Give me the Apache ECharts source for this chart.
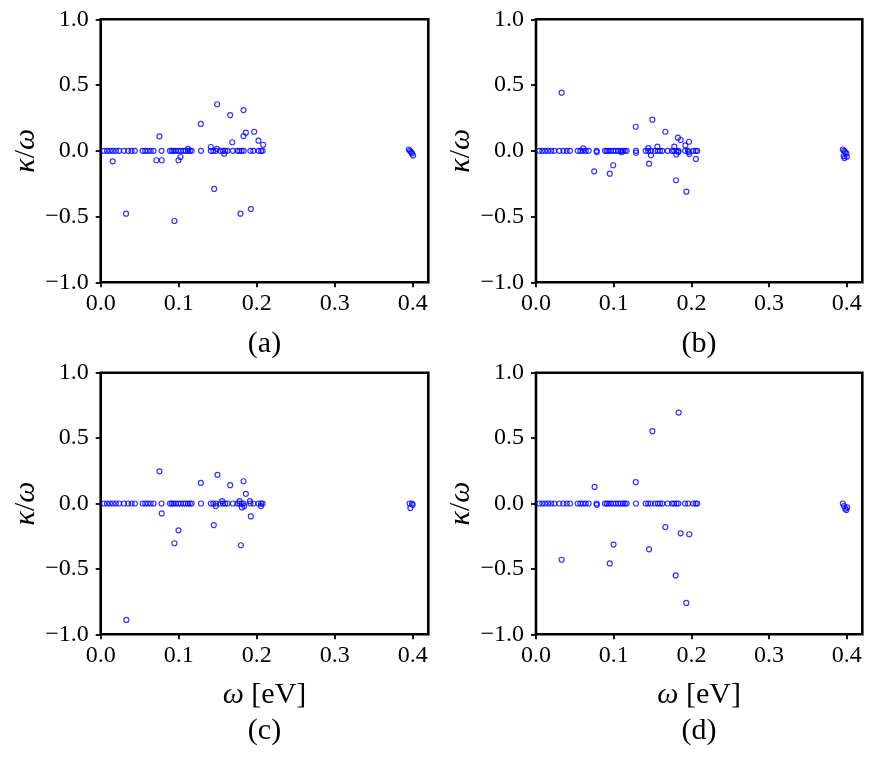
<!DOCTYPE html>
<html>
<head>
<meta charset="utf-8">
<script src="https://cdn.jsdelivr.net/npm/echarts@6/dist/echarts.min.js"></script>
<style>html,body{margin:0;padding:0;background:#fff}#c{width:872px;height:763px}</style>
</head>
<body>
<div id="c"></div>
<script>
// Shared frequencies of modes with kappa/omega = 0 (eV)
const omegaZero = [0.0042,0.0081,0.0118,0.0156,0.0195,0.0235,0.0299,0.0353,0.0396,0.0438,0.0537,0.0571,0.0605,0.0640,0.0678,0.0780,0.0888,0.0911,0.0933,0.0963,0.0995,0.1027,0.1059,0.1091,0.1119,0.1143,0.1166,0.1286,0.1412,0.1444,0.1478,0.1532,0.1568,0.1596,0.1626,0.1695,0.1752,0.1778,0.1808,0.1833,0.1919,0.1957,0.2024,0.2056,0.2076];
// Non-zero kappa/omega points, [omega, kappa/omega]
const panelA = [[0.0154,-0.08],[0.0325,-0.478],[0.0753,0.11],[0.0714,-0.072],[0.0783,-0.072],[0.0945,-0.534],[0.0997,-0.072],[0.1023,-0.047],[0.112,0.015],[0.1284,0.204],[0.1412,0.029],[0.1455,-0.29],[0.1493,0.354],[0.149,0.015],[0.1583,-0.022],[0.166,0.272],[0.1686,0.065],[0.1792,-0.478],[0.1831,0.31],[0.1831,0.112],[0.1861,0.138],[0.1925,-0.443],[0.1968,0.145],[0.2023,0.077],[0.2083,0.046],
  [0.395,0.01],[0.3965,0],[0.398,-0.01],[0.399,-0.02],[0.4005,-0.035]];
const panelB = [[0.033,0.442],[0.0749,-0.156],[0.095,-0.174],[0.0993,-0.11],[0.0783,-0.01],[0.0608,0.019],[0.11,-0.011],[0.1284,0.183],[0.1288,-0.015],[0.1455,-0.098],[0.148,-0.034],[0.1445,0.02],[0.1498,0.237],[0.1562,0.031],[0.1665,0.145],[0.178,0.031],[0.1802,-0.224],[0.1806,-0.028],[0.1832,-0.01],[0.1827,0.10],[0.1862,0.082],[0.1922,0.042],[0.1935,-0.311],[0.1969,0.069],[0.1965,-0.01],[0.1973,-0.025],[0.2058,-0.062],
  [0.395,0.01],[0.3965,0],[0.398,-0.01],[0.3995,-0.02],[0.396,-0.04],[0.4,-0.045],[0.397,-0.055]];
const panelC = [[0.0753,0.246],[0.0329,-0.89],[0.0783,-0.076],[0.0997,-0.205],[0.0945,-0.304],[0.1284,0.157],[0.1497,0.219],[0.145,-0.165],[0.1476,-0.02],[0.1557,0.018],[0.166,0.14],[0.1831,0.17],[0.1861,0.074],[0.178,0.018],[0.1797,-0.319],[0.181,-0.03],[0.184,-0.02],[0.1913,0.018],[0.1925,-0.099],[0.2054,-0.02],
  [0.396,0],[0.397,-0.035],[0.399,0],[0.4,-0.01]];
const panelD = [[0.1836,0.695],[0.1498,0.553],[0.033,-0.43],[0.0754,0.127],[0.0783,-0.01],[0.0998,-0.314],[0.095,-0.458],[0.1284,0.163],[0.1455,-0.35],[0.1665,-0.18],[0.1798,-0.55],[0.1862,-0.228],[0.1973,-0.235],[0.1935,-0.76],
  [0.395,0],[0.3965,-0.02],[0.398,-0.04],[0.3995,-0.05],[0.4005,-0.03]];
const xTicks = [0, 0.1, 0.2, 0.3, 0.4];
const yTicks = [-1.0, -0.5, 0.0, 0.5, 1.0];
const panelLabels = ['(a)', '(b)', '(c)', '(d)'];

const FONT = "'Liberation Serif', 'Times New Roman', serif";
const panels = [panelA, panelB, panelC, panelD];
const gridPos = [
  {left: 100.7, top: 19.3, width: 327.6, height: 263},
  {left: 536, top: 19.3, width: 326.3, height: 263},
  {left: 100.7, top: 372.7, width: 327.6, height: 261.6},
  {left: 536, top: 372.7, width: 326.3, height: 261.6}
];
const labelPos = [[264.5, 344], [699, 344], [264.5, 731], [699, 731]];
function fmt(v) {
  const s = Math.abs(v).toFixed(1);
  return (v < -1e-9 ? '\u2212' : '') + s;
}
const nameStyle = {fontFamily: FONT, fontSize: 30, color: '#000', rich: {i: {fontFamily: FONT, fontSize: 30, fontStyle: 'italic', color: '#000'}}};

const option = {
  animation: false,
  backgroundColor: '#fff',
  grid: gridPos.map(g => Object.assign({show: true, borderColor: '#000', borderWidth: 2.6, backgroundColor: 'transparent'}, g)),
  xAxis: gridPos.map((g, i) => ({
    type: 'value', gridIndex: i, min: 0, max: 0.42, position: 'bottom',
    name: i >= 2 ? '{i|ω} [eV]' : '',
    nameLocation: 'middle', nameGap: 46,
    nameTextStyle: nameStyle,
    axisLine: {show: false, onZero: false},
    splitLine: {show: false},
    axisTick: {show: true, inside: false, length: 5, lineStyle: {color: '#000', width: 1.8}, customValues: xTicks},
    axisLabel: {fontFamily: FONT, fontSize: 24, color: '#000', margin: 9, customValues: xTicks, formatter: v => fmt(v)}
  })),
  yAxis: gridPos.map((g, i) => ({
    type: 'value', gridIndex: i, min: -1, max: 1, interval: 0.5, position: 'left',
    name: '{i|κ}/{i|ω}',
    nameLocation: 'middle', nameGap: 60, nameRotate: 90,
    nameTextStyle: nameStyle,
    axisLine: {show: false, onZero: false},
    splitLine: {show: false},
    axisTick: {show: true, inside: false, length: 5, lineStyle: {color: '#000', width: 1.8}, customValues: yTicks},
    axisLabel: {fontFamily: FONT, fontSize: 24, color: '#000', margin: 12, customValues: yTicks, formatter: v => fmt(v)}
  })),
  series: panels.map((p, i) => ({
    type: 'scatter', xAxisIndex: i, yAxisIndex: i,
    symbol: 'circle', symbolSize: 5,
    itemStyle: {color: 'rgba(0,0,0,0)', borderColor: '#0000ff', borderWidth: 1.2},
    data: omegaZero.map(w => [w, 0]).concat(p)
  })),
  graphic: panelLabels.map((t, i) => ({
    type: 'text', x: labelPos[i][0], y: labelPos[i][1],
    style: {text: t, fontFamily: FONT, fontSize: 30, fill: '#000', align: 'center', verticalAlign: 'middle'}
  }))
};
const chart = echarts.init(document.getElementById('c'), null, {renderer: 'canvas'});
chart.setOption(option);
</script>
</body>
</html>
